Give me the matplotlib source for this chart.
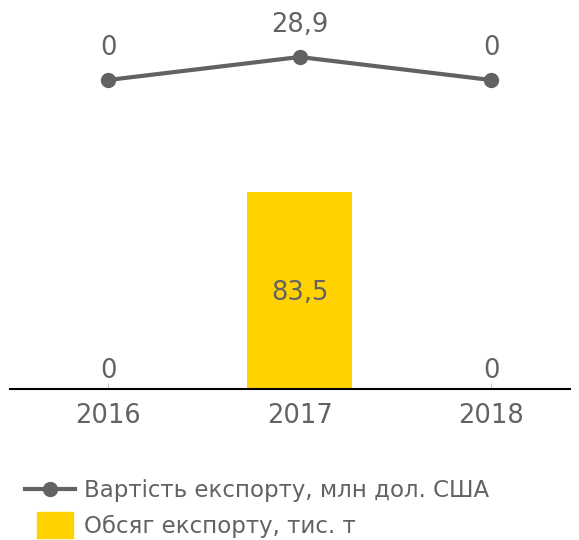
import matplotlib
matplotlib.use("Agg")
import matplotlib.pyplot as plt
from matplotlib.lines import Line2D
from matplotlib.patches import Patch, Rectangle
from matplotlib.legend_handler import HandlerPatch

years = ["2016", "2017", "2018"]
volume = [0, 83.5, 0]          # Обсяг експорту, тис. т
value = [0, 28.9, 0]           # Вартість експорту, млн дол. США
volume_labels = ["0", "83,5", "0"]
value_labels = ["0", "28,9", "0"]

GREY = "#626262"
YELLOW = "#FFD200"
plt.rcParams["font.family"] = ["DejaVu Sans"]
FS = 18.5

W, H = 579, 540
fig = plt.figure(figsize=(W / 100, H / 100), dpi=100)
left, right = 10 / W, 570 / W
bottom, top = 1 - 389 / H, 1 - 20 / H
ax = fig.add_axes([left, bottom, right - left, top - bottom])
x = list(range(len(years)))

ax.bar(x, volume, width=0.55, color=YELLOW, zorder=2)
ax.set_xlim(-0.512, 2.412)
ax.set_ylim(0, 83.5 * 369 / 197)
for xi, v, lab in zip(x, volume, volume_labels):
    if v > 0:
        ax.annotate(lab, (xi, v / 2), xytext=(0, -2), textcoords="offset points",
                    ha="center", va="center", fontsize=FS, color=GREY)
    else:
        ax.annotate(lab, (xi, v), xytext=(0, 13), textcoords="offset points",
                    ha="center", va="center", fontsize=FS, color=GREY)

ax2 = ax.twinx()
ax2.plot(x, value, color=GREY, lw=3, marker="o", ms=10, zorder=3)
ax2.set_ylim(-309 * 28.9 / 23, 60 * 28.9 / 23)
for xi, v, lab in zip(x, value, value_labels):
    ax2.annotate(lab, (xi, v), xytext=(0, 23), textcoords="offset points",
                 ha="center", va="center", fontsize=FS, color=GREY)

for a in (ax, ax2):
    for s in ("top", "right", "left"):
        a.spines[s].set_visible(False)
    a.set_yticks([])
ax2.spines["bottom"].set_visible(False)
ax.spines["bottom"].set_color("black")
ax.spines["bottom"].set_linewidth(1.5)
ax.set_xticks(x)
ax.set_xticklabels(years, fontsize=FS, color=GREY)
ax.tick_params(axis="x", direction="in", length=4, color="#cccccc", pad=10)


def small_patch(legend, orig_handle, xdescent, ydescent, width, height, fontsize):
    w = width * 0.72
    return Rectangle((xdescent + width - w - width * 0.04, ydescent - height * 0.3),
                     w, height * 1.6)


handles = [
    Line2D([], [], color=GREY, lw=3, marker="o", ms=10),
    Patch(color=YELLOW),
]
labels = ["Вартість експорту, млн дол. США", "Обсяг експорту, тис. т"]
fig.legend(handles, labels, loc="upper left", bbox_to_anchor=(25 / W, 1 - 479 / H),
           frameon=False, fontsize=16.5, labelcolor=GREY, handlelength=2.18,
           handletextpad=0.4, labelspacing=0.55, borderpad=0, borderaxespad=0,
           handler_map={Patch: HandlerPatch(patch_func=small_patch)})

fig.savefig("out.png", dpi=100)
